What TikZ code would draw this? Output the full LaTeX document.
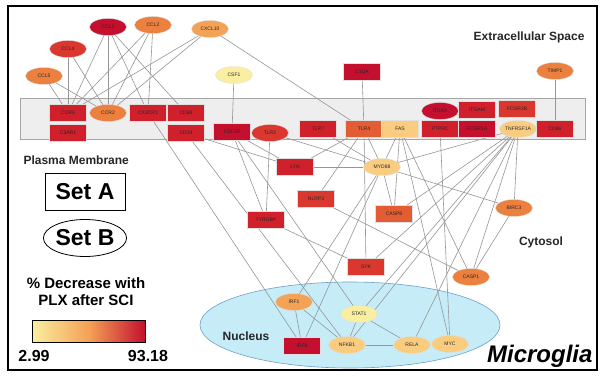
\documentclass[tikz,border=0pt]{standalone}
\usepackage{fontspec}
\setsansfont{Liberation Sans}
\usetikzlibrary{shapes.geometric}

\definecolor{deepred}{RGB}{196,16,46}
\definecolor{crimson}{RGB}{208,32,44}
\definecolor{redish}{RGB}{218,56,46}
\definecolor{redorange}{RGB}{226,92,52}
\definecolor{orange1}{RGB}{236,128,62}
\definecolor{orange2}{RGB}{244,162,86}
\definecolor{paleorange}{RGB}{250,204,128}
\definecolor{paleyellow}{RGB}{250,238,160}
\definecolor{nucblue}{RGB}{198,236,248}
\definecolor{nucline}{RGB}{110,160,200}
\definecolor{linkgray}{RGB}{150,150,150}

\pgfdeclarelayer{back}
\pgfdeclarelayer{edges}
\pgfsetlayers{back,edges,main}

\tikzset{
  gene/.style={draw=white!75!gray, line width=0.3pt, inner sep=0pt,
    minimum width=37pt, minimum height=17pt,
    font=\fontsize{5}{5}\sffamily, text=black!85},
  box/.style={gene, rectangle},
  oval/.style={gene, ellipse},
  link/.style={draw=linkgray, line width=0.6pt},
  region/.style={font=\fontsize{12}{13}\sffamily\bfseries, text=black!85},
}

\begin{document}
\begin{tikzpicture}[x=1pt,y=-1pt]
  \useasboundingbox (0,0) rectangle (600,377);

  \begin{pgfonlayer}{back}
    \fill[white] (0,0) rectangle (600,377);
    \draw[gray!70,fill=gray!13] (20,98) rectangle (585,139);
    \draw[nucline,fill=nucblue,line width=0.6pt] (350,325) ellipse [x radius=150,y radius=43];
  \end{pgfonlayer}
  \draw[line width=1.1pt] (8,6) rectangle (597,370);

  % extracellular space
  \node[oval,fill=deepred]    (ccl3)   at (108,27)  {CCL3};
  \node[oval,fill=orange1]    (ccl2)   at (153,25)  {CCL2};
  \node[oval,fill=orange2]    (cxcl10) at (210,29)  {CXCL10};
  \node[oval,fill=redish]     (ccl4)   at (68,49)   {CCL4};
  \node[oval,fill=orange1]    (ccl5)   at (44,76)   {CCL5};
  \node[oval,fill=paleyellow] (csf1)   at (234,75)  {CSF1};
  \node[box,fill=deepred]     (c1qa)   at (362,72)  {C1QA};
  \node[oval,fill=orange1]    (timp1)  at (555,71)  {TIMP1};

  % plasma membrane
  \node[box,fill=crimson]     (ccr5)   at (68,113)  {CCR5};
  \node[oval,fill=orange1]    (ccr2)   at (108,113) {CCR2};
  \node[box,fill=crimson]     (cx3cr1) at (148,113) {CX3CR1};
  \node[box,fill=crimson]     (cd68)   at (186,113) {CD68};
  \node[box,fill=crimson]     (c5ar1)  at (68,133)  {C5AR1};
  \node[box,fill=crimson]     (cd14)   at (186,133) {CD14};
  \node[box,fill=deepred]     (csf1r)  at (232,132) {CSF1R};
  \node[oval,fill=redish]     (tlr2)   at (270,133) {TLR2};
  \node[box,fill=crimson]     (tlr7)   at (318,129) {TLR7};
  \node[box,fill=redorange]   (tlr4)   at (364,129) {TLR4};
  \node[box,fill=paleorange]  (fas)    at (400,129) {FAS};
  \node[box,fill=crimson]     (ptprc)  at (440,129) {PTPRC};
  \node[box,fill=deepred]     (fcgr1a) at (477,129) {FCGR1A};
  \node[oval,fill=paleorange] (tnfrsf1a) at (518,129) {TNFRSF1A};
  \node[box,fill=crimson]     (cd86)   at (555,129) {CD86};
  \node[oval,fill=deepred]    (itgax)  at (440,111) {ITGAX};
  \node[box,fill=crimson]     (itgam)  at (477,110) {ITGAM};
  \node[box,fill=redish]      (fcgr2b) at (517,109) {FCGR2B};

  % cytosol
  \node[box,fill=crimson]     (lyn)    at (295,167) {LYN};
  \node[oval,fill=paleorange] (myd88)  at (382,167) {MYD88};
  \node[box,fill=redish]      (nlrp3)  at (316,199) {NLRP3};
  \node[box,fill=redorange]   (casp8)  at (394,214) {CASP8};
  \node[oval,fill=orange1]    (birc3)  at (514,208) {BIRC3};
  \node[box,fill=crimson]     (tyrobp) at (266,220) {TYROBP};
  \node[box,fill=redish]      (syk)    at (366,267) {SYK};
  \node[oval,fill=orange1]    (casp1)  at (471,277) {CASP1};

  % nucleus
  \node[oval,fill=orange2]    (irf1)   at (294,302) {IRF1};
  \node[oval,fill=paleyellow] (stat1)  at (359,314) {STAT1};
  \node[box,fill=deepred]     (irf8)   at (302,346) {IRF8};
  \node[oval,fill=paleorange] (nfkb1)  at (347,345) {NFKB1};
  \node[oval,fill=paleorange] (rela)   at (412,345) {RELA};
  \node[oval,fill=paleorange] (myc)    at (450,344) {MYC};

  \begin{pgfonlayer}{edges}
    \foreach \a/\b in {ccl3/ccr5,ccl3/ccr2,ccl3/cx3cr1,ccl3/cd68,
        ccl2/ccr5,ccl2/ccr2,ccl2/cx3cr1,cxcl10/ccr5,cxcl10/ccr2,cxcl10/tlr4,
        ccl4/ccr5,ccl4/ccr2,ccl5/ccr5,ccl5/ccr2,
        csf1/csf1r,c1qa/tlr4,timp1/cd86,
        cx3cr1/irf8,cd14/nfkb1,cd14/lyn,csf1r/lyn,csf1r/tyrobp,csf1r/stat1,
        tlr2/tyrobp,tlr2/myd88,tlr7/myd88,tlr4/lyn,tlr4/nlrp3,tlr4/myd88,tlr4/syk,
        fas/myd88,fas/casp8,fas/casp1,fas/myc,ptprc/myc,
        tnfrsf1a/birc3,tnfrsf1a/casp8,tnfrsf1a/casp1,tnfrsf1a/rela,
        tnfrsf1a/nfkb1,tnfrsf1a/stat1,tnfrsf1a/syk,tnfrsf1a/myd88,
        lyn/myd88,myd88/casp8,myd88/irf1,myd88/irf8,myd88/birc3,
        nlrp3/casp1,tyrobp/syk,birc3/casp1,
        irf1/irf8,irf1/nfkb1,stat1/nfkb1,stat1/rela,nfkb1/rela}
      \draw[link] (\a) -- (\b);
  \end{pgfonlayer}

  % labels
  \node[region,anchor=east] (extra) at (588,37) {Extracellular Space};
  \node[region,anchor=west] (pm) at (20,160) {Plasma Membrane};
  \node[region] (cyto) at (541,242) {Cytosol};
  \node[region] (nuc) at (246,336) {Nucleus};

  \node[draw,line width=0.8pt,minimum width=80pt,minimum height=37pt,
    font=\fontsize{23}{24}\sffamily\bfseries] (seta) at (85,192) {Set A};
  \node[draw,ellipse,line width=0.8pt,minimum width=80pt,minimum height=37pt,inner sep=0pt,
    font=\fontsize{23}{24}\sffamily\bfseries] (setb) at (85,238) {Set B};

  \node[align=center,font=\fontsize{15}{17}\sffamily\bfseries] (legtitle) at (86,292)
    {\% Decrease with\\PLX after SCI};
  \shade[left color=paleyellow,right color=deepred,middle color=orange2] (32,320) rectangle (145,342);
  \draw[line width=0.8pt] (32,320) rectangle (145,342);
  \node[font=\fontsize{16}{17}\sffamily\bfseries] (lo) at (34,356) {2.99};
  \node[font=\fontsize{16}{17}\sffamily\bfseries] (hi) at (148,356) {93.18};

  \node[anchor=east,font=\fontsize{24}{25}\sffamily\bfseries\itshape] (mg) at (596,356) {Microglia};
\end{tikzpicture}
\end{document}
